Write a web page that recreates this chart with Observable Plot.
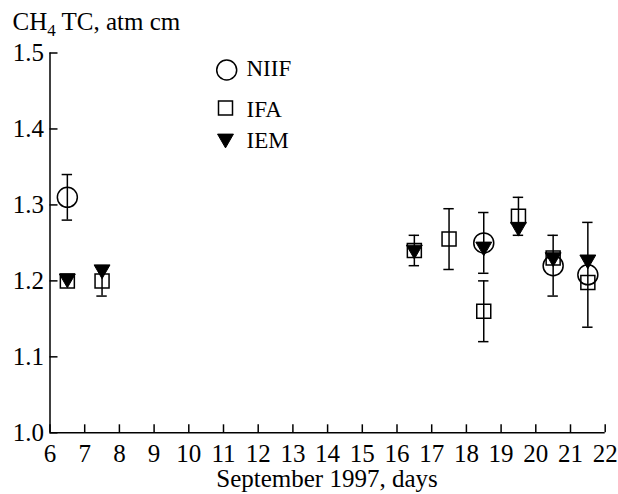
<!DOCTYPE html>
<html>
<head>
<meta charset="utf-8">
<script src="https://cdn.jsdelivr.net/npm/d3@7"></script>
<script src="https://cdn.jsdelivr.net/npm/@observablehq/plot@0.6"></script>
<style>
  html, body { margin: 0; padding: 0; background: #fff; }
  #wrap { position: relative; width: 618px; height: 494px; color: #000; }
  #wrap > svg { position: absolute; left: 0; top: 0; }
  #overlay { pointer-events: none; }
</style>
</head>
<body>
<div id="wrap"></div>
<script>
// ---- data ----
const niifDays   = [6.5, 18.5, 20.5, 21.5];
const niifValues = [1.31, 1.25, 1.22, 1.208];
const niifErrors = [0.03, 0.04, 0.04, 0.069];

const ifaDays    = [6.5, 7.5, 16.5, 17.5, 18.5, 19.5, 20.5, 21.5];
const ifaValues  = [1.20, 1.20, 1.24, 1.255, 1.16, 1.285, 1.23, 1.198];
const ifaErrors  = [0, 0.02, 0.02, 0.04, 0.04, 0.025, 0, 0];

const iemDays    = [6.5, 7.5, 16.5, 18.5, 19.5, 20.5, 21.5];
const iemValues  = [1.203, 1.215, 1.241, 1.245, 1.271, 1.231, 1.228];

const xTicks = d3.range(6, 23);
const yTicks = [1.0, 1.1, 1.2, 1.3, 1.4, 1.5];
const seriesNames = ["NIIF", "IFA", "IEM"];
const yTitle = ["CH", "4", " TC, atm cm"];
const xTitle = "September 1997, days";

// ---- tables ----
const rows = (days, vals, errs) => days.map((d, i) => ({x: d, y: vals[i], e: errs ? errs[i] : 0}));
const niif = rows(niifDays, niifValues, niifErrors);
const ifa  = rows(ifaDays, ifaValues, ifaErrors);
const iem  = rows(iemDays, iemValues, null);
const bars = [...niif, ...ifa].filter(d => d.e > 0);
const cap = 0.15;
const sw = 1.5;
const serif = "Liberation Serif, serif";

const chart = Plot.plot({
  width: 618,
  height: 494,
  marginLeft: 49.5,
  marginRight: 13.3,
  marginTop: 52.5,
  marginBottom: 61.7,
  x: {domain: [6, 22]},
  y: {domain: [1.0, 1.5]},
  style: {fontFamily: serif, fontSize: "25px", color: "#000", background: "#fff"},
  marks: [
    Plot.ruleX(bars, {x: "x", y1: d => d.y - d.e, y2: d => d.y + d.e, strokeWidth: sw}),
    Plot.ruleY(bars, {y: d => d.y + d.e, x1: d => d.x - cap, x2: d => d.x + cap, strokeWidth: sw}),
    Plot.ruleY(bars, {y: d => d.y - d.e, x1: d => d.x - cap, x2: d => d.x + cap, strokeWidth: sw}),
    Plot.dot(niif, {x: "x", y: "y", r: 10, fill: "none", stroke: "#000", strokeWidth: sw}),
    Plot.dot(ifa, {x: "x", y: "y", symbol: "square", r: 7.9, fill: "none", stroke: "#000", strokeWidth: sw}),
    Plot.dot(iem, {x: "x", y: "y", symbol: "triangle", r: 5.9, fill: "#000", stroke: "#000", strokeWidth: 1, rotate: 180}),
    Plot.axisX({ticks: xTicks, tickSize: -8, tickPadding: 19, tickFormat: d => String(d), label: null, strokeWidth: sw}),
    Plot.axisY({ticks: yTicks, tickSize: -8, tickPadding: 14, tickFormat: d3.format(".1f"), label: null, strokeWidth: sw}),
    Plot.ruleX([6], {strokeWidth: sw}),
    Plot.ruleY([1.0], {strokeWidth: sw})
  ]
});
document.getElementById("wrap").appendChild(chart);

// ---- overlay: title, x label, legend ----
const ov = d3.select("#wrap").append("svg")
  .attr("id", "overlay").attr("width", 618).attr("height", 494)
  .attr("font-family", serif);

const t = ov.append("text").attr("x", 12.5).attr("y", 30).attr("font-size", 25);
t.append("tspan").text(yTitle[0]);
t.append("tspan").attr("font-size", 17).attr("dy", 6).text(yTitle[1]);
t.append("tspan").attr("dy", -6).text(yTitle[2]);

ov.append("text").attr("x", 327).attr("y", 487).attr("text-anchor", "middle")
  .attr("font-size", 25).text(xTitle);

const lg = ov.append("g");
const legendRows = [
  {name: seriesNames[0], cx: 226.7, cy: 70, base: 76},
  {name: seriesNames[1], cx: 225.5, cy: 108, base: 117},
  {name: seriesNames[2], cx: 225.5, cy: 138.7, base: 148}
];
lg.append("circle").attr("cx", legendRows[0].cx).attr("cy", legendRows[0].cy).attr("r", 10)
  .attr("fill", "none").attr("stroke", "#000").attr("stroke-width", sw);
lg.append("path").attr("transform", `translate(${legendRows[1].cx},${legendRows[1].cy})`)
  .attr("d", d3.symbol(d3.symbolSquare, 7.9 * 7.9 * Math.PI)())
  .attr("fill", "none").attr("stroke", "#000").attr("stroke-width", sw);
lg.append("path").attr("transform", `translate(${legendRows[2].cx},${legendRows[2].cy}) rotate(180)`)
  .attr("d", d3.symbol(d3.symbolTriangle, 5.9 * 5.9 * Math.PI)())
  .attr("fill", "#000").attr("stroke", "#000").attr("stroke-width", 1);
legendRows.forEach(r => {
  lg.append("text").attr("x", 246.5).attr("y", r.base).attr("font-size", 23).text(r.name);
});
</script>
</body>
</html>
